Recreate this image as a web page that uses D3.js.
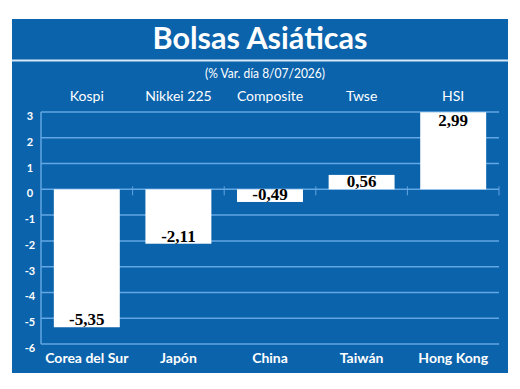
<!DOCTYPE html>
<html lang="es">
<head>
  <meta charset="UTF-8">
  <title>Bolsas Asiáticas</title>
  <script src="https://d3js.org/d3.v7.min.js"></script>
  <style>
    body { margin: 0; background: #fff; }
    svg text { font-family: Lato, "Open Sans", sans-serif; }
    .val { font-family: "Liberation Serif", "Times New Roman", serif !important; font-weight: bold; }
  </style>
</head>
<body>
  <div id="chart"></div>
  <script>
    // data
    const indices = ['Kospi', 'Nikkei 225', 'Composite', 'Twse', 'HSI'];
    const countries = ['Corea del Sur', 'Japón', 'China', 'Taiwán', 'Hong Kong'];
    const values = [-5.35, -2.11, -0.49, 0.56, 2.99];
    const yTicks = [3, 2, 1, 0, -1, -2, -3, -4, -5, -6];

    const W = 520, H = 389;
    const blue = '#0b63ac';
    const grid = '#62a6e2';

    const svg = d3.select('#chart').append('svg')
      .attr('width', W).attr('height', H);

    // panel
    svg.append('rect').attr('x', 12).attr('y', 19)
      .attr('width', 496).attr('height', 354).attr('fill', blue);
    svg.append('line').attr('x1', 12).attr('x2', 508)
      .attr('y1', 60.5).attr('y2', 60.5)
      .attr('stroke', '#d8e8f6').attr('stroke-width', 2);

    svg.append('text').attr('x', 260).attr('y', 49)
      .attr('text-anchor', 'middle').attr('fill', '#fff')
      .attr('font-size', 31).attr('font-weight', 'bold')
      .attr('textLength', 215).attr('lengthAdjust', 'spacingAndGlyphs')
      .text('Bolsas Asiáticas');

    svg.append('text').attr('x', 265).attr('y', 78)
      .attr('text-anchor', 'middle').attr('fill', '#fff')
      .attr('font-size', 13)
      .attr('textLength', 120).attr('lengthAdjust', 'spacingAndGlyphs')
      .text('(% Var. día 8/07/2026)');

    // scales
    const x = d3.scaleBand().domain(d3.range(values.length))
      .range([41, 499]).paddingInner(0.28).paddingOuter(0.14);
    const y = d3.scaleLinear().domain([-6, 3]).range([344, 112]);

    // gridlines
    svg.append('g').selectAll('line').data(yTicks).join('line')
      .attr('x1', 41).attr('x2', 499)
      .attr('y1', d => y(d)).attr('y2', d => y(d))
      .attr('stroke', grid).attr('stroke-width', 1.5);

    svg.append('line').attr('x1', 41).attr('x2', 41)
      .attr('y1', y(3)).attr('y2', y(-6))
      .attr('stroke', grid).attr('stroke-width', 1.5);

    // ticks on the zero line at band boundaries
    const bounds = d3.range(1, values.length + 1).map(i => 41 + i * x.step());
    svg.append('g').selectAll('line').data(bounds).join('line')
      .attr('x1', d => d).attr('x2', d => d)
      .attr('y1', y(0) - 3).attr('y2', y(0) + 6)
      .attr('stroke', grid).attr('stroke-width', 1);

    // y labels
    svg.append('g').selectAll('text').data(yTicks).join('text')
      .attr('x', 30).attr('y', d => y(d) + 8)
      .attr('text-anchor', 'middle').attr('fill', '#fff')
      .attr('font-size', 11).attr('font-weight', 'bold')
      .text(d => d);

    // bars
    svg.append('g').selectAll('rect').data(values).join('rect')
      .attr('x', (d, i) => x(i)).attr('width', x.bandwidth())
      .attr('y', d => y(Math.max(0, d)))
      .attr('height', d => Math.abs(y(d) - y(0)))
      .attr('fill', '#fff');

    // value labels (plain hyphen, decimal comma)
    const fmt = d => d3.format('.2f')(d).replace('\u2212', '-').replace('.', ',');
    svg.append('g').selectAll('text').data(values).join('text')
      .attr('class', 'val')
      .attr('x', (d, i) => x(i) + x.bandwidth() / 2)
      .attr('y', d => d < 0 ? y(d) - 2 : Math.min(y(d) + 14, y(0) - 2))
      .attr('text-anchor', 'middle').attr('fill', '#000')
      .attr('font-size', 17)
      .text(fmt);

    // index names on top
    svg.append('g').selectAll('text').data(indices).join('text')
      .attr('x', (d, i) => x(i) + x.bandwidth() / 2).attr('y', 101)
      .attr('text-anchor', 'middle').attr('fill', '#fff')
      .attr('font-size', 14)
      .text(d => d);

    // countries at the bottom
    svg.append('g').selectAll('text').data(countries).join('text')
      .attr('x', (d, i) => x(i) + x.bandwidth() / 2).attr('y', 363)
      .attr('text-anchor', 'middle').attr('fill', '#fff')
      .attr('font-size', 14).attr('font-weight', 'bold')
      .text(d => d);
  </script>
</body>
</html>
